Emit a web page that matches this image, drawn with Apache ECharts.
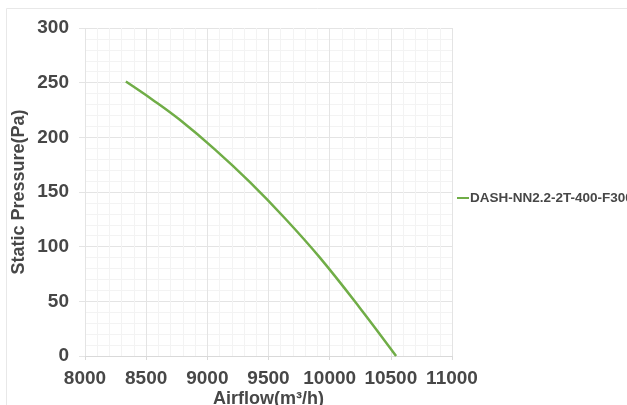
<!DOCTYPE html>
<html>
<head>
<meta charset="utf-8">
<script src="https://cdn.jsdelivr.net/npm/echarts@6/dist/echarts.min.js"></script>
<style>html,body{margin:0;padding:0;background:#fff}#c{width:627px;height:405px}</style>
</head>
<body>
<div id="c"></div>
<script>
var seriesName = 'DASH-NN2.2-2T-400-F300';
var airflow = [8334, 8557, 8775, 9061, 9348, 9634, 9920, 10247, 10543];
var pressure = [251, 234, 216, 189, 159, 126, 90, 44, 0];
var xTicks = [8000, 8500, 9000, 9500, 10000, 10500, 11000];
var yTicks = [0, 50, 100, 150, 200, 250, 300];

var txt = '#474747';
var font = 'Liberation Sans';
var chart = echarts.init(document.getElementById('c'), null, {renderer: 'canvas'});
chart.setOption({
  animation: false,
  backgroundColor: '#fff',
  graphic: [{
    type: 'rect', left: 4, top: 6, silent: true, z: -10,
    shape: {width: 800, height: 600},
    style: {fill: 'none', stroke: '#e8e8e8', lineWidth: 1}
  }],
  grid: {left: 85, right: 175, top: 28, bottom: 49, containLabel: false, outerBoundsMode: 'none'},
  legend: {
    left: 452, top: 186,
    data: [seriesName],
    icon: 'rect', itemWidth: 12, itemHeight: 2, itemGap: 2,
    textStyle: {color: txt, fontSize: 13.5, fontWeight: 700, fontFamily: font, padding: [0, 0, 0, -4]}
  },
  xAxis: {
    type: 'value', min: xTicks[0], max: xTicks[xTicks.length - 1], interval: 500,
    name: 'Airflow(m³/h)', nameLocation: 'middle', nameGap: 34, nameMoveOverlap: false,
    nameTextStyle: {color: txt, fontSize: 18, fontWeight: 700, fontFamily: font},
    axisLine: {show: true, lineStyle: {color: '#d9d9d9'}},
    axisTick: {show: true, length: 4, lineStyle: {color: '#d9d9d9'}},
    axisLabel: {color: txt, fontSize: 19, fontWeight: 700, fontFamily: font, margin: 13,
      formatter: function (v) { return String(v); }},
    splitLine: {show: true, lineStyle: {color: '#e4e4e4'}},
    minorTick: {show: false, splitNumber: 5},
    minorSplitLine: {show: true, lineStyle: {color: '#f3f3f3'}}
  },
  yAxis: {
    type: 'value', min: yTicks[0], max: yTicks[yTicks.length - 1], interval: 50,
    name: 'Static Pressure(Pa)', nameLocation: 'middle', nameGap: 57, nameMoveOverlap: false,
    nameTextStyle: {color: txt, fontSize: 18, fontWeight: 700, fontFamily: font},
    axisLine: {show: false},
    axisTick: {show: true, length: 6, lineStyle: {color: '#e4e4e4'}},
    axisLabel: {color: txt, fontSize: 19, fontWeight: 700, fontFamily: font, margin: 16,
      formatter: function (v) { return String(v); }},
    splitLine: {show: true, lineStyle: {color: '#e4e4e4'}},
    minorTick: {show: false, splitNumber: 5},
    minorSplitLine: {show: true, lineStyle: {color: '#f3f3f3'}}
  },
  series: [{
    name: seriesName, type: 'line', smooth: 0.4, showSymbol: false,
    data: airflow.map(function (x, i) { return [x, pressure[i]]; }),
    lineStyle: {color: '#70ad47', width: 2.5},
    itemStyle: {color: '#70ad47'}
  }]
});
</script>
</body>
</html>
